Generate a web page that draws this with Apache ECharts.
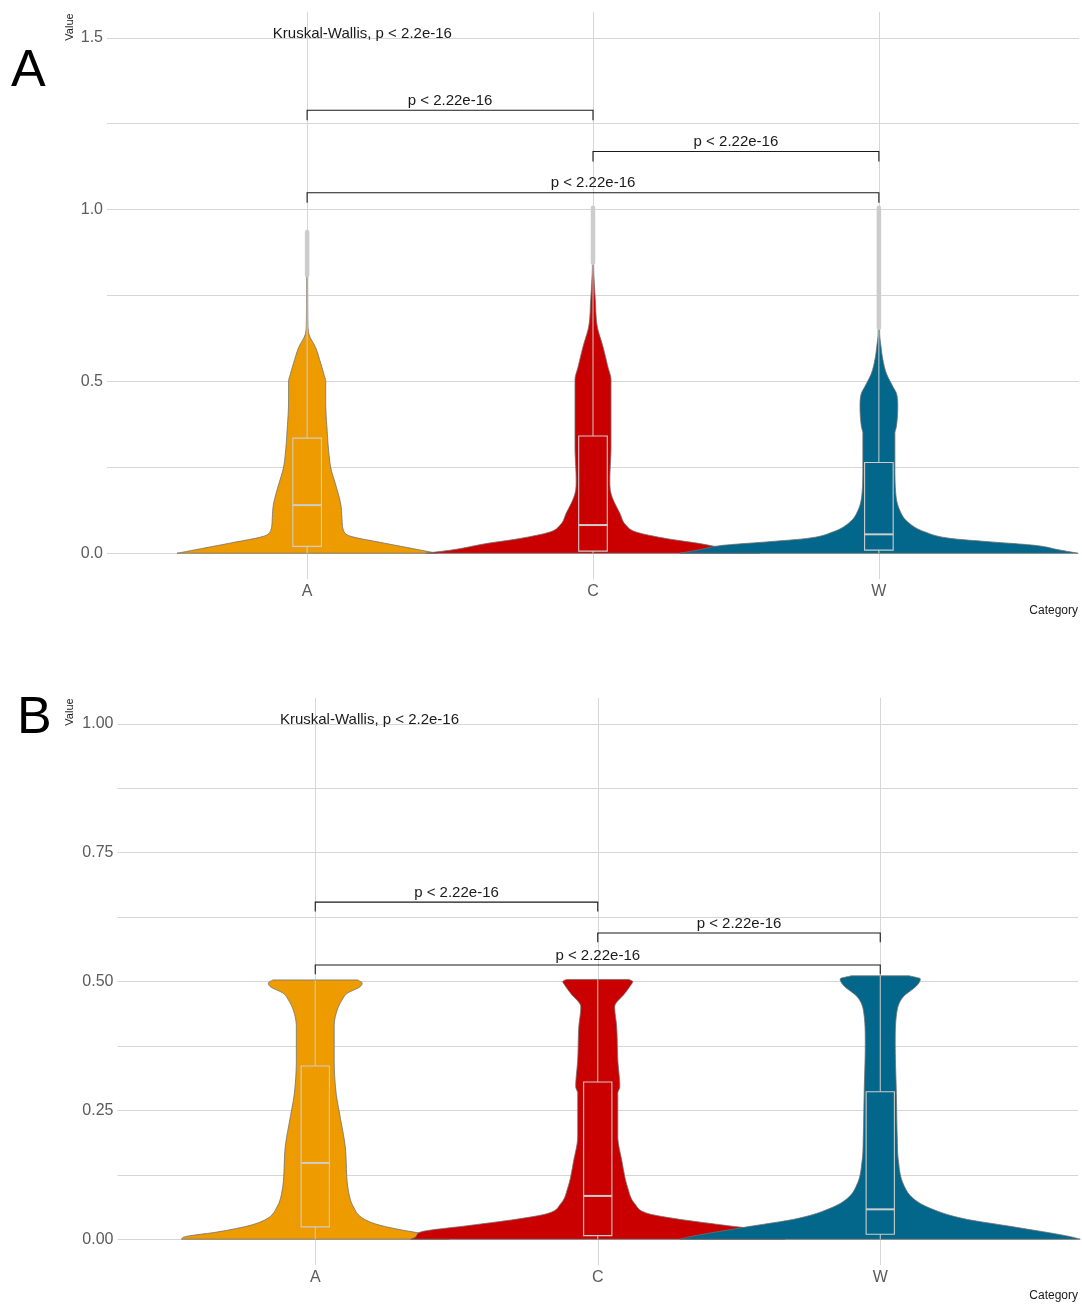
<!DOCTYPE html>
<html><head><meta charset="utf-8">
<script src="https://cdn.jsdelivr.net/npm/echarts@6/dist/echarts.min.js"></script>
<style>html,body{margin:0;padding:0;background:#fff}#c{width:1082px;height:1305px}</style>
</head><body><div id="c"></div>
<script>
// ---------------- DATA ----------------
const categories = ['A', 'C', 'W'];
const catPositions = [1, 2, 3];

// y-axis ticks and labels
const aTickValues = [0, 0.5, 1.0, 1.5];
const aTickLabels = ['0.0', '0.5', '1.0', '1.5'];
const aMinorValues = [0.25, 0.75, 1.25];
const bTickValues = [0, 0.25, 0.5, 0.75, 1.0];
const bTickLabels = ['0.00', '0.25', '0.50', '0.75', '1.00'];
const bMinorValues = [0.125, 0.375, 0.625, 0.875];

// Panel A violins: value levels (y) and half-widths (category units)
const aViolinA_y = [0, 0.005, 0.015, 0.03, 0.049, 0.063, 0.1, 0.141, 0.199, 0.248, 0.3, 0.345, 0.442, 0.5, 0.52, 0.56, 0.598, 0.636, 0.67, 0.75, 0.93];
const aViolinA_w = [0.455, 0.423, 0.360, 0.266, 0.154, 0.129, 0.122, 0.118, 0.100, 0.083, 0.075, 0.071, 0.065, 0.065, 0.059, 0.045, 0.030, 0.007, 0.0028, 0.0021, 0.001];
const aViolinC_y = [0, 0.01, 0.028, 0.043, 0.062, 0.082, 0.116, 0.174, 0.213, 0.31, 0.408, 0.504, 0.543, 0.601, 0.66, 0.738, 0.796, 0.825, 0.87, 1.0];
const aViolinC_w = [0.584, 0.490, 0.374, 0.255, 0.150, 0.115, 0.094, 0.063, 0.059, 0.063, 0.063, 0.063, 0.052, 0.035, 0.015, 0.008, 0.004, 0.0025, 0.0017, 0.001];
const aViolinW_y = [0, 0.01, 0.023, 0.033, 0.043, 0.062, 0.091, 0.125, 0.174, 0.262, 0.349, 0.368, 0.427, 0.466, 0.485, 0.524, 0.563, 0.611, 0.64, 1.0];
const aViolinW_w = [0.696, 0.629, 0.545, 0.392, 0.252, 0.161, 0.101, 0.073, 0.059, 0.056, 0.056, 0.061, 0.066, 0.061, 0.049, 0.026, 0.014, 0.006, 0.0028, 0.001];

// Panel B violins
const bViolinA_y = [0, 0.005, 0.014, 0.027, 0.04, 0.063, 0.095, 0.18, 0.238, 0.283, 0.348, 0.413, 0.445, 0.465, 0.477, 0.49, 0.497, 0.503];
const bViolinA_w = [0.474, 0.460, 0.347, 0.230, 0.170, 0.135, 0.117, 0.106, 0.088, 0.074, 0.067, 0.067, 0.078, 0.096, 0.113, 0.159, 0.166, 0.150];
const bViolinC_y = [0, 0.005, 0.014, 0.027, 0.04, 0.05, 0.069, 0.1, 0.153, 0.2, 0.283, 0.296, 0.348, 0.412, 0.451, 0.477, 0.493, 0.5, 0.504];
const bViolinC_w = [0.662, 0.644, 0.627, 0.450, 0.273, 0.177, 0.131, 0.106, 0.085, 0.071, 0.071, 0.078, 0.071, 0.067, 0.060, 0.096, 0.117, 0.124, 0.110];
const bViolinW_y = [0, 0.005, 0.024, 0.04, 0.06, 0.079, 0.108, 0.153, 0.2, 0.283, 0.38, 0.445, 0.47, 0.493, 0.505, 0.511];
const bViolinW_w = [0.708, 0.673, 0.471, 0.294, 0.177, 0.117, 0.081, 0.064, 0.060, 0.057, 0.053, 0.060, 0.081, 0.131, 0.142, 0.103];

// Boxplot stats: [lowerWhisker, Q1, median, Q3, upperWhisker]
const aBoxes = [
  [0, 0.020, 0.140, 0.335, 0.810],
  [0, 0.006, 0.082, 0.341, 0.845],
  [0, 0.009, 0.055, 0.264, 0.656]
];
const bBoxes = [
  [0, 0.024, 0.148, 0.336, 0.503],
  [0, 0.007, 0.084, 0.305, 0.504],
  [0, 0.0097, 0.058, 0.286, 0.511]
];
// Outlier extents [low, high] (overlapping points)
const aOutliers = [[0.810, 0.935], [0.845, 1.005], [0.656, 1.005]];
const bOutliers = [null, null, null];

// Pairwise comparison brackets: [fromCategory, toCategory, yLine, tipLength, label]
const aBrackets = [
  [1, 2, 1.289, 0.029, 'p < 2.22e-16'],
  [2, 3, 1.169, 0.029, 'p < 2.22e-16'],
  [1, 3, 1.049, 0.029, 'p < 2.22e-16']
];
const bBrackets = [
  [1, 2, 0.654, 0.018, 'p < 2.22e-16'],
  [2, 3, 0.594, 0.018, 'p < 2.22e-16'],
  [1, 3, 0.532, 0.018, 'p < 2.22e-16']
];
// Global test label: [x, y, text]
const aGlobalTest = [0.88, 1.51, 'Kruskal-Wallis, p < 2.2e-16'];
const bGlobalTest = [0.875, 1.008, 'Kruskal-Wallis, p < 2.2e-16'];

// ---------------- STYLE ----------------
const FONT = '"Liberation Sans", Arial, sans-serif';
const fills = ['#EE9B00', '#CA0000', '#02678A'];
const gridColor = '#d6d6d6';
const boxColor = '#cdcdcd';

const panels = [
  { violinsY: [aViolinA_y, aViolinC_y, aViolinW_y], violinsW: [aViolinA_w, aViolinC_w, aViolinW_w],
    boxes: aBoxes, outliers: aOutliers, brackets: aBrackets, globalTest: aGlobalTest },
  { violinsY: [bViolinA_y, bViolinC_y, bViolinW_y], violinsW: [bViolinA_w, bViolinC_w, bViolinW_w],
    boxes: bBoxes, outliers: bOutliers, brackets: bBrackets, globalTest: bGlobalTest }
];

// smooth (monotone cubic) outline through the read points, for drawing only
function smoothOutline(xs, ys) {
  const n = xs.length;
  const d = [], m = new Array(n);
  for (let k = 0; k < n - 1; k++) d.push((ys[k + 1] - ys[k]) / (xs[k + 1] - xs[k]));
  m[0] = d[0]; m[n - 1] = d[n - 2];
  for (let k = 1; k < n - 1; k++) m[k] = (d[k - 1] * d[k] <= 0) ? 0 : (d[k - 1] + d[k]) / 2;
  for (let k = 0; k < n - 1; k++) {
    if (d[k] === 0) { m[k] = 0; m[k + 1] = 0; continue; }
    const a = m[k] / d[k], b = m[k + 1] / d[k], s = a * a + b * b;
    if (s > 9) { const t = 3 / Math.sqrt(s); m[k] = t * a * d[k]; m[k + 1] = t * b * d[k]; }
  }
  const out = [];
  const steps = 10;
  for (let k = 0; k < n - 1; k++) {
    const h = xs[k + 1] - xs[k];
    for (let j = 0; j < steps; j++) {
      const t = j / steps, t2 = t * t, t3 = t2 * t;
      const v = (2 * t3 - 3 * t2 + 1) * ys[k] + (t3 - 2 * t2 + t) * h * m[k] + (-2 * t3 + 3 * t2) * ys[k + 1] + (t3 - t2) * h * m[k + 1];
      out.push([xs[k] + t * h, Math.max(v, 0)]);
    }
  }
  out.push([xs[n - 1], ys[n - 1]]);
  return out;
}

function violinRender(p) {
  return function (params, api) {
    const i = params.dataIndex;
    const cx = catPositions[i];
    const pts0 = smoothOutline(p.violinsY[i], p.violinsW[i]);
    const right = [], left = [];
    for (const [y, w] of pts0) {
      right.push(api.coord([cx + w, y]));
      left.push(api.coord([cx - w, y]));
    }
    const pts = right.concat(left.reverse());
    return { type: 'polygon', shape: { points: pts },
      style: { fill: fills[i], stroke: '#6e6e6e', lineWidth: 0.8 } };
  };
}

function boxRender(p) {
  const hw = 0.05;
  return function (params, api) {
    const i = params.dataIndex;
    const cx = catPositions[i];
    const b = p.boxes[i];
    const children = [];
    const o = p.outliers[i];
    const c = (x, y) => api.coord([x, y]);
    let a1 = c(cx, b[3]), a2 = c(cx, b[4]);
    children.push({ type: 'line', shape: { x1: a1[0], y1: a1[1], x2: a2[0], y2: a2[1] }, style: { stroke: boxColor, lineWidth: 1 } });
    a1 = c(cx, b[0]); a2 = c(cx, b[1]);
    children.push({ type: 'line', shape: { x1: a1[0], y1: a1[1], x2: a2[0], y2: a2[1] }, style: { stroke: boxColor, lineWidth: 1 } });
    const tl = c(cx - hw, b[3]), br = c(cx + hw, b[1]);
    children.push({ type: 'rect', shape: { x: tl[0], y: tl[1], width: br[0] - tl[0], height: br[1] - tl[1] },
      style: { fill: 'none', stroke: boxColor, lineWidth: 1.1 } });
    const m1 = c(cx - hw, b[2]), m2 = c(cx + hw, b[2]);
    children.push({ type: 'line', shape: { x1: m1[0], y1: m1[1], x2: m2[0], y2: m2[1] }, style: { stroke: boxColor, lineWidth: 2 } });
    if (o) {
      const o1 = c(cx, o[0]), o2 = c(cx, o[1]);
      children.push({ type: 'line', shape: { x1: o1[0], y1: o1[1], x2: o2[0], y2: o2[1] },
        style: { stroke: '#cccccc', lineWidth: 4.5, lineCap: 'round' } });
    }
    return { type: 'group', children: children };
  };
}

function annotRender(p) {
  return function (params, api) {
    const i = params.dataIndex;
    if (i < p.brackets.length) {
      const br = p.brackets[i];
      const l1 = api.coord([br[0], br[2] - br[3]]);
      const l2 = api.coord([br[0], br[2]]);
      const r2 = api.coord([br[1], br[2]]);
      const r1 = api.coord([br[1], br[2] - br[3]]);
      const mid = api.coord([(br[0] + br[1]) / 2, br[2]]);
      return { type: 'group', children: [
        { type: 'polyline', shape: { points: [l1, l2, r2, r1] }, style: { stroke: '#1a1a1a', lineWidth: 1.1, fill: 'none' } },
        { type: 'text', x: mid[0], y: mid[1] - 2, style: { text: br[4], font: '15px ' + FONT, fill: '#1a1a1a', align: 'center', verticalAlign: 'bottom' } }
      ] };
    }
    const g = p.globalTest;
    const pt = api.coord([g[0], g[1]]);
    return { type: 'text', x: pt[0], y: pt[1], style: { text: g[2], font: '15px ' + FONT, fill: '#1a1a1a', align: 'left', verticalAlign: 'middle' } };
  };
}

const grids = [
  { left: 107, right: 3, top: 12, height: 567 },
  { left: 117.5, right: 4, top: 698, height: 567 }
];
const yRanges = [[-0.075, 1.575], [-0.05, 1.05]];
const yTicks = [aTickValues.concat(aMinorValues).sort((a, b) => a - b), bTickValues.concat(bMinorValues).sort((a, b) => a - b)];
const yLabelVals = [aTickValues, bTickValues];
const yLabelText = [aTickLabels, bTickLabels];

const xAxes = [], yAxes = [], series = [];
for (let g = 0; g < 2; g++) {
  xAxes.push({
    type: 'value', gridIndex: g, min: 0.3, max: 3.7,
    axisLine: { show: false }, axisTick: { show: false, customValues: catPositions },
    splitLine: { show: true, lineStyle: { color: gridColor, width: 1 } },
    axisLabel: { customValues: catPositions, formatter: v => categories[Math.round(v) - 1] || '',
      color: '#5b5b5b', fontSize: 16, fontFamily: FONT, margin: 5 }
  });
  yAxes.push({
    type: 'value', gridIndex: g, min: yRanges[g][0], max: yRanges[g][1],
    axisLine: { show: false }, axisTick: { show: false, customValues: yTicks[g] },
    splitLine: { show: true, lineStyle: { color: gridColor, width: 1 } },
    axisLabel: { customValues: yLabelVals[g], formatter: v => {
        const idx = yLabelVals[g].findIndex(t => Math.abs(t - v) < 1e-9);
        return idx >= 0 ? yLabelText[g][idx] : '';
      }, color: '#5b5b5b', fontSize: 16, fontFamily: FONT, margin: 4 }
  });
  const p = panels[g];
  const itemData = catPositions.map(x => [x, 0]);
  series.push({ type: 'custom', xAxisIndex: g, yAxisIndex: g, renderItem: violinRender(p), data: itemData, silent: true, clip: false });
  series.push({ type: 'custom', xAxisIndex: g, yAxisIndex: g, renderItem: boxRender(p), data: itemData, silent: true, clip: false });
  const annData = p.brackets.map(b => [b[0], b[2]]).concat([[p.globalTest[0], p.globalTest[1]]]);
  series.push({ type: 'custom', xAxisIndex: g, yAxisIndex: g, renderItem: annotRender(p), data: annData, silent: true, clip: false });
}

const chart = echarts.init(document.getElementById('c'), null, { renderer: 'canvas' });
chart.setOption({
  backgroundColor: '#ffffff',
  animation: false,
  grid: grids,
  xAxis: xAxes,
  yAxis: yAxes,
  series: series,
  graphic: [
    { type: 'text', left: 11, top: 46, style: { text: 'A', font: '52px ' + FONT, fill: '#000' } },
    { type: 'text', left: 17, top: 693, style: { text: 'B', font: '52px ' + FONT, fill: '#000' } },
    { type: 'text', x: 70, y: 27, rotation: Math.PI / 2, style: { text: 'Value', font: '11px ' + FONT, fill: '#1a1a1a', align: 'center', verticalAlign: 'middle' } },
    { type: 'text', x: 70, y: 712, rotation: Math.PI / 2, style: { text: 'Value', font: '11px ' + FONT, fill: '#1a1a1a', align: 'center', verticalAlign: 'middle' } },
    { type: 'text', x: 1078, y: 611, style: { text: 'Category', font: '12px ' + FONT, fill: '#1a1a1a', align: 'right', verticalAlign: 'middle' } },
    { type: 'text', x: 1078, y: 1296, style: { text: 'Category', font: '12px ' + FONT, fill: '#1a1a1a', align: 'right', verticalAlign: 'middle' } }
  ]
});
</script>
</body></html>
